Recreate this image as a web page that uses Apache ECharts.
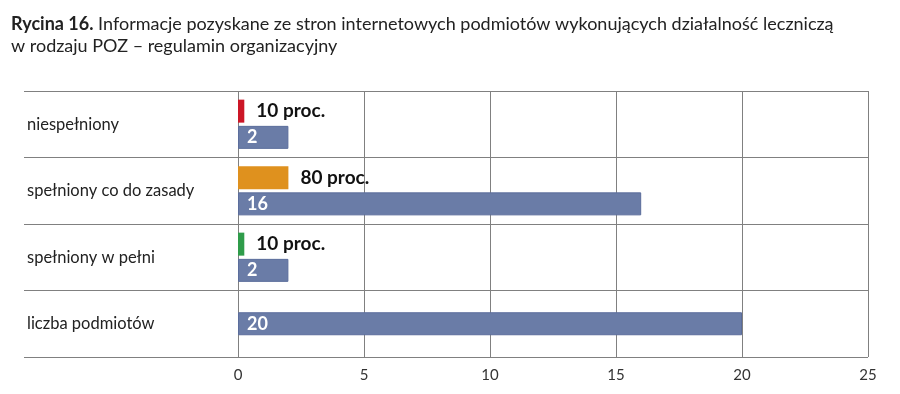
<!DOCTYPE html>
<html><head><meta charset="utf-8">
<script src="https://cdn.jsdelivr.net/npm/echarts@6/dist/echarts.min.js"></script>
<style>html,body{margin:0;padding:0;background:#fff}#c{width:900px;height:394px}</style>
</head><body><div id="c"></div>
<script>
var categories = ['niespełniony', 'spełniony co do zasady', 'spełniony w pełni', 'liczba podmiotów'];
var countValues = [2, 16, 2, null];
var totalValues = [null, null, null, 20];
var pctBarValues = [0.25, 2, 0.25, null];
var pctLabels = ['10 proc.', '80 proc.', '10 proc.', ''];
var pctColors = ['#cc1626', '#df911e', '#2f9c4a', '#ffffff'];
var xTicks = [0, 5, 10, 15, 20, 25];

var FONT = 'Lato, "Open Sans", sans-serif';
var gridColor = '#808080';
var blue = '#6a7ca7';

var chart = echarts.init(document.getElementById('c'), null, {renderer: 'canvas'});
chart.setOption({
  animation: false,
  title: {
    left: 6, top: 8,
    text: '{b|Rycina 16.} Informacje pozyskane ze stron internetowych podmiotów wykonujących działalność leczniczą\nw rodzaju POZ – regulamin organizacyjny',
    textStyle: {
      fontFamily: FONT, fontSize: 18, fontWeight: 'normal', color: '#222', lineHeight: 22,
      rich: { b: { fontFamily: FONT, fontSize: 18, fontWeight: 'bold', color: '#222' } }
    }
  },
  grid: [
    {left: 24, right: 32, top: 91, bottom: 37},
    {left: 238, right: 32, top: 91, bottom: 37}
  ],
  xAxis: [
    {gridIndex: 0, type: 'value', min: 0, max: 1, show: false},
    {gridIndex: 1, type: 'value', min: xTicks[0], max: xTicks[xTicks.length - 1], interval: 5,
     axisLine: {show: false}, axisTick: {show: false},
     splitLine: {show: true, lineStyle: {color: gridColor, width: 1}},
     axisLabel: {fontFamily: FONT, fontSize: 15, color: '#333', margin: 11,
       formatter: function (v) { return xTicks.indexOf(v) >= 0 ? String(v) : ''; }}}
  ],
  yAxis: [
    {gridIndex: 0, type: 'category', data: categories, inverse: true,
     axisLine: {show: false}, axisTick: {show: false},
     splitLine: {show: true, lineStyle: {color: gridColor, width: 1}},
     axisLabel: {inside: true, margin: 3, fontFamily: FONT, fontSize: 16.5, color: '#222', padding: [6, 0, 0, 0]}},
    {gridIndex: 1, type: 'category', data: categories, inverse: true, show: false},
    {gridIndex: 1, type: 'category', data: categories, inverse: true, show: false}
  ],
  series: [
    {type: 'bar', xAxisIndex: 1, yAxisIndex: 1, barWidth: 23, barGap: '14%',
     data: pctBarValues.map(function (v, i) {
       return {value: v, itemStyle: {color: pctColors[i]},
         label: {show: v != null, formatter: pctLabels[i]}};
     }),
     label: {position: 'right', distance: 12, fontFamily: FONT, fontSize: 19, fontWeight: 'bold', color: '#111'}
    },
    {type: 'bar', xAxisIndex: 1, yAxisIndex: 1, barWidth: 23, barGap: '14%',
     data: countValues,
     itemStyle: {color: blue, borderColor: '#5b6d9c', borderWidth: 1},
     label: {show: true, position: 'insideLeft', distance: 9, fontFamily: FONT, fontSize: 18, fontWeight: 'bold', color: '#fff'}
    },
    {type: 'bar', xAxisIndex: 1, yAxisIndex: 2, barWidth: 23,
     data: totalValues,
     itemStyle: {color: blue, borderColor: '#5b6d9c', borderWidth: 1},
     label: {show: true, position: 'insideLeft', distance: 9, fontFamily: FONT, fontSize: 18, fontWeight: 'bold', color: '#fff'}
    }
  ]
});
</script></body></html>
